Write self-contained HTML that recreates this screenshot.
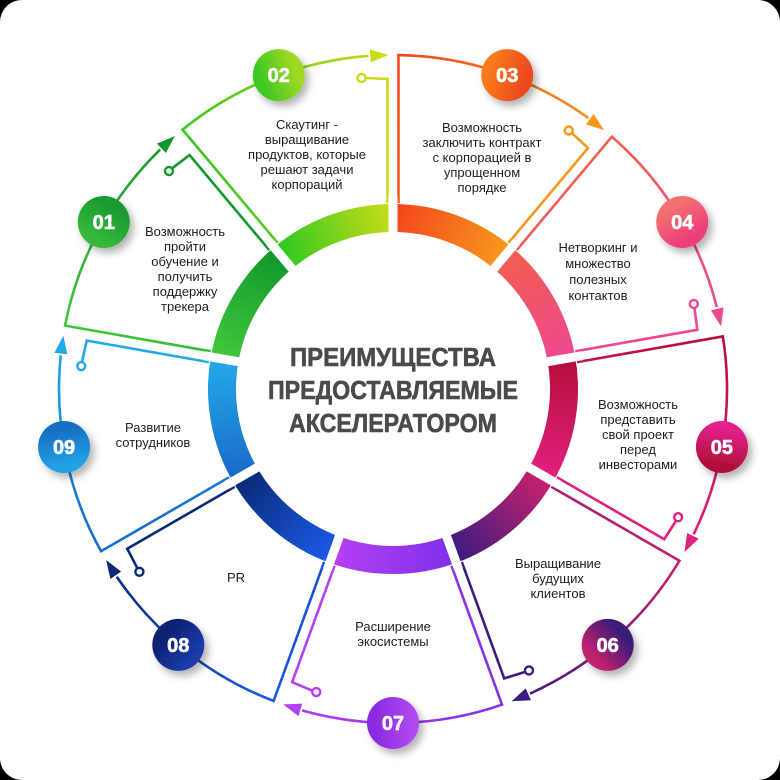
<!DOCTYPE html>
<html><head><meta charset="utf-8"><style>
html,body{margin:0;padding:0;background:#000;}
#card{width:780px;height:780px;background:#fff;border-radius:22px;overflow:hidden;position:relative}
svg{position:absolute;left:0;top:0}
.t{font-family:"Liberation Sans",sans-serif;font-size:13px;fill:#1e1e1e;text-anchor:middle}
.h{font-family:"Liberation Sans",sans-serif;font-size:26px;font-weight:bold;fill:#4a4a4a;text-anchor:middle;stroke:#4a4a4a;stroke-width:0.6}
.b{font-family:"Liberation Sans",sans-serif;font-size:20px;font-weight:bold;fill:#fff;text-anchor:middle;stroke:#fff;stroke-width:0.6}
</style></head><body><div id="card">
<svg id="g" width="780" height="780" viewBox="0 0 780 780" xmlns="http://www.w3.org/2000/svg">
<defs id="defs"><filter id="sh" x="-50%" y="-50%" width="200%" height="200%"><feDropShadow dx="4" dy="5" stdDeviation="4" flood-color="#000" flood-opacity="0.3"/></filter></defs>
<g id="shapes"></g>
<g id="badges"></g>
<text class="h" x="393" y="366" textLength="206" lengthAdjust="spacingAndGlyphs">ПРЕИМУЩЕСТВА</text>
<text class="h" x="393" y="399" textLength="250" lengthAdjust="spacingAndGlyphs">ПРЕДОСТАВЛЯЕМЫЕ</text>
<text class="h" x="393" y="432" textLength="208" lengthAdjust="spacingAndGlyphs">АКСЕЛЕРАТОРОМ</text>

<text class="t" x="185" y="236">Возможность</text>
<text class="t" x="185" y="251">пройти</text>
<text class="t" x="185" y="266">обучение и</text>
<text class="t" x="185" y="281">получить</text>
<text class="t" x="185" y="296">поддержку</text>
<text class="t" x="185" y="311">трекера</text>

<text class="t" x="307" y="129">Скаутинг -</text>
<text class="t" x="307" y="144">выращивание</text>
<text class="t" x="307" y="159">продуктов, которые</text>
<text class="t" x="307" y="174">решают задачи</text>
<text class="t" x="307" y="189">корпораций</text>

<text class="t" x="482" y="132">Возможность</text>
<text class="t" x="482" y="147">заключить контракт</text>
<text class="t" x="482" y="162">с корпорацией в</text>
<text class="t" x="482" y="177">упрощенном</text>
<text class="t" x="482" y="192">порядке</text>

<text class="t" x="598" y="252">Нетворкинг и</text>
<text class="t" x="598" y="268">множество</text>
<text class="t" x="598" y="284">полезных</text>
<text class="t" x="598" y="300">контактов</text>

<text class="t" x="638" y="409">Возможность</text>
<text class="t" x="638" y="424">представить</text>
<text class="t" x="638" y="439">свой проект</text>
<text class="t" x="638" y="454">перед</text>
<text class="t" x="638" y="469">инвесторами</text>

<text class="t" x="558" y="568">Выращивание</text>
<text class="t" x="558" y="583">будущих</text>
<text class="t" x="558" y="598">клиентов</text>

<text class="t" x="393" y="631">Расширение</text>
<text class="t" x="393" y="646">экосистемы</text>

<text class="t" x="236" y="582">PR</text>

<text class="t" x="153" y="432">Развитие</text>
<text class="t" x="153" y="447">сотрудников</text>

<text class="b" x="0" y="0" id="n03">03</text>
<text class="b" x="0" y="0" id="n04">04</text>
<text class="b" x="0" y="0" id="n05">05</text>
<text class="b" x="0" y="0" id="n06">06</text>
<text class="b" x="0" y="0" id="n07">07</text>
<text class="b" x="0" y="0" id="n08">08</text>
<text class="b" x="0" y="0" id="n09">09</text>
<text class="b" x="0" y="0" id="n01">01</text>
<text class="b" x="0" y="0" id="n02">02</text>
</svg></div>
<script>
var NS="http://www.w3.org/2000/svg",cx=393,cy=389,R=334,d=5.5;
var S=[
["03","#f2461e","#f8981c","#f87a1a","#ee4a1a"],
["04","#f25e4e","#ee4890","#f27070","#ee3e7a"],
["05","#b40e3a","#e2207e","#e2208a","#b0103a"],
["06","#c8206e","#3c1c80","#3a1e78","#c0206e"],
["07","#8030ea","#b440f2","#b048f0","#8a2ae0"],
["08","#1a5ae8","#0a2a78","#1a3aa8","#0c2070"],
["09","#1a6ac8","#22aae8","#22a0e8","#1670c0"],
["01","#40c83c","#10982c","#34b838","#1a9a30"],
["02","#30c820","#c8dc18","#40c820","#a0d820"]];
function rad(a){return a*Math.PI/180}
function P(r,a,o){o=o||0;var s=Math.sin(rad(a)),c=Math.cos(rad(a));return [cx+r*s+o*c,cy-r*c+o*s]}
function el(t,at,p){var e=document.createElementNS(NS,t);for(var k in at)e.setAttribute(k,at[k]);(p||document.getElementById("shapes")).appendChild(e);return e}
var defs=document.getElementById("defs"),sh=document.getElementById("shapes"),bd=document.getElementById("badges");
S.forEach(function(s,i){
 var a0=i*40,a1=a0+40,p0=P(171,a0),p1=P(171,a1);
 el("linearGradient",{id:"r"+i,gradientUnits:"userSpaceOnUse",x1:p0[0],y1:p0[1],x2:p1[0],y2:p1[1]},defs).innerHTML='<stop offset="0" stop-color="'+s[1]+'"/><stop offset="1" stop-color="'+s[2]+'"/>';
 var q0=P(R,a0),q1=P(R,a1);
 el("linearGradient",{id:"o"+i,gradientUnits:"userSpaceOnUse",x1:q0[0],y1:q0[1],x2:q1[0],y2:q1[1]},defs).innerHTML='<stop offset="0" stop-color="'+s[1]+'"/><stop offset="1" stop-color="'+s[2]+'"/>';
 var b0=P(R,a0+20,-18),b1=P(R,a0+20,18);
 el("linearGradient",{id:"b"+i,gradientUnits:"userSpaceOnUse",x1:b0[0],y1:b0[1],x2:b1[0],y2:b1[1]},defs).innerHTML='<stop offset="0" stop-color="'+s[3]+'"/><stop offset="1" stop-color="'+s[4]+'"/>';
 var r0=P(171,a0),r1=P(171,a1);
 el("path",{d:"M"+r0+" A171 171 0 0 1 "+r1,fill:"none",stroke:"url(#r"+i+")","stroke-width":28});
 var aL=a0+Math.asin(d/R)*180/Math.PI;
 var l0=P(186,a0,d),l1=P(R,aL);
 var ae=a1-4.2,e=P(R,ae);
 el("path",{d:"M"+l0+" L"+l1+" A"+R+" "+R+" 0 0 1 "+e,fill:"none",stroke:"url(#o"+i+")","stroke-width":2.6});
 var tip=P(R,a1-0.8),bl=P(R-6.5,ae+0.3),br=P(R+6.5,ae+0.3);
 el("path",{d:"M"+tip+" L"+bl+" L"+br+"Z",fill:s[2]});
 var t0=P(186,a1,-d),t1=P(310,a1,-d),t2=P(311,a1,-d-22);
 el("path",{d:"M"+t0+" L"+t1+" L"+t2,fill:"none",stroke:s[2],"stroke-width":2.6});
 var ce=P(311,a1,-d-26);
 el("circle",{cx:ce[0],cy:ce[1],r:4,fill:"#fff",stroke:s[2],"stroke-width":2.4});
 var bc=P(R,a0+20);
 el("circle",{cx:bc[0],cy:bc[1],r:26,fill:"url(#b"+i+")",filter:"url(#sh)"},bd);
 var n=document.getElementById("n"+s[0]);n.setAttribute("x",bc[0]);n.setAttribute("y",bc[1]+7);
});
for(var i=0;i<9;i++){var a=i*40;var g0=P(150,a),g1=P(192,a);el("line",{x1:g0[0],y1:g0[1],x2:g1[0],y2:g1[1],stroke:"#fff","stroke-width":9});}
</script>
</body></html>
